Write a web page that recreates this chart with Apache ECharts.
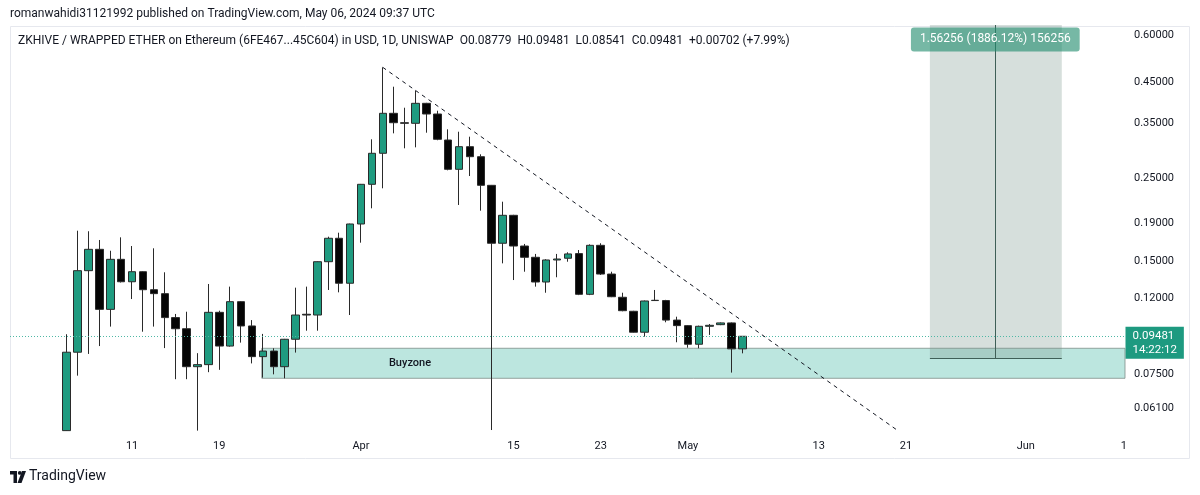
<!DOCTYPE html>
<html><head><meta charset="utf-8">
<script src="https://cdn.jsdelivr.net/npm/echarts@6/dist/echarts.min.js"></script>
<style>html,body{margin:0;padding:0;background:#fff}#c{width:1200px;height:495px}</style>
</head><body><div id="c"></div>
<script>
// Daily candles, first candle = 2024-03-05 (index 0), last = 2024-05-06 (index 62)
const opens  = [0.0532,0.0860,0.1417,0.1615,0.1118,0.1519,0.1324,0.1408,0.1261,0.1231,
                0.1063,0.0993,0.0787,0.0797,0.1098,0.0893,0.1172,0.1010,0.0837,0.0866,
                0.0787,0.0931,0.1085,0.1080,0.1497,0.1728,0.1312,0.1886,0.2405,0.2908,
                0.3715,0.3507,0.3494,0.3949,0.3699,0.3154,0.2636,0.3028,0.2848,0.2390,
                0.1676,0.1989,0.1648,0.1538,0.1322,0.1513,0.1529,0.1573,0.1226,0.1655,
                0.1388,0.1204,0.1105,0.0972,0.1180,0.1180,0.1047,0.1012,0.0903,0.1008,
                0.1018,0.1029,0.08779];
const closes = [0.0860,0.1417,0.1615,0.1118,0.1519,0.1324,0.1408,0.1261,0.1231,0.1063,
                0.0993,0.0787,0.0797,0.1098,0.0893,0.1172,0.1010,0.0837,0.0866,0.0787,
                0.0931,0.1080,0.1080,0.1497,0.1728,0.1312,0.1886,0.2405,0.2908,0.3715,
                0.3507,0.3494,0.3949,0.3699,0.3168,0.2636,0.3028,0.2848,0.2390,0.1676,
                0.1989,0.1648,0.1538,0.1322,0.1513,0.1522,0.1570,0.1226,0.1655,0.1388,
                0.1208,0.1109,0.0972,0.1177,0.1182,0.1047,0.1012,0.0903,0.1008,0.1014,
                0.1029,0.08779,0.09481];
const lows   = [0.0531,0.0745,0.0851,0.0893,0.1006,0.1318,0.1191,0.0975,0.1006,0.0882,
                0.0729,0.0729,0.0532,0.0761,0.0772,0.0890,0.0912,0.0803,0.0736,0.0751,
                0.0733,0.0858,0.0981,0.0981,0.1259,0.1241,0.1080,0.1682,0.2076,0.2347,
                0.3286,0.2998,0.3016,0.3299,0.3150,0.2620,0.2119,0.2530,0.2046,0.0534,
                0.1482,0.1338,0.1408,0.1285,0.1238,0.1361,0.1497,0.1220,0.1220,0.1380,
                0.1205,0.1105,0.0970,0.0946,0.1178,0.1033,0.0914,0.0884,0.0881,0.0956,
                0.1015,0.0759,0.08541];
const highs  = [0.0960,0.1810,0.1804,0.1710,0.1601,0.1738,0.1648,0.1412,0.1625,0.1403,
                0.1087,0.1102,0.0855,0.1306,0.1109,0.1285,0.1176,0.1047,0.0962,0.0881,
                0.0933,0.1277,0.1285,0.1500,0.1745,0.1788,0.1890,0.2410,0.3168,0.4923,
                0.4372,0.3844,0.4266,0.3960,0.3774,0.3368,0.3319,0.3219,0.2890,0.2395,
                0.2162,0.1995,0.1669,0.1570,0.1520,0.1570,0.1586,0.1608,0.1665,0.1676,
                0.1408,0.1238,0.1108,0.1180,0.1259,0.1185,0.1069,0.1015,0.1012,0.1022,
                0.1032,0.1032,0.09481];

// Time axis labels (day index from 2024-03-05)
const xTickIdx    = [6, 14, 27, 41, 49, 57, 69, 77, 88, 97];
const xTickLabels = ['11','19','Apr','15','23','May','13','21','Jun','1'];
// Price axis labels
const yTicks = [0.6, 0.45, 0.35, 0.25, 0.19, 0.15, 0.12, 0.075, 0.061];

// Annotations (data space)
const lastPrice = 0.09481;
const lastTime = '14:22:12';
const lastLabelPrice = 0.0911;
const buyzoneLow = 0.0733, buyzoneHigh = 0.0881, buyzoneStart = 17.9, buyzoneLabelAt = [31.5, 0.0804];
const trendFrom = [29, 0.4923], trendTo = [76.3, 0.0531];
const measureFrom = 79.2, measureTo = 91.3, measureMid = 85.2, measureBase = 0.0828, measureLabelPrice = 0.584;
const measureText = '1.56256 (1886.12%) 156256';

const X_MIN = -5.2, X_MAX = 97.1, Y_MIN = 0.05308, Y_MAX = 0.638;

const candles = opens.map((o, i) => [i, o, closes[i], lows[i], highs[i]]);

const chart = echarts.init(document.getElementById('c'), null, {renderer: 'canvas'});
const FONT = 'Roboto';
chart.setOption({
  animation: false,
  backgroundColor: '#ffffff',
  textStyle: {fontFamily: FONT},
  grid: {left: 10, right: 75, top: 25, bottom: 64, containLabel: false},
  xAxis: {
    type: 'value', min: X_MIN, max: X_MAX,
    axisLine: {show: false}, axisTick: {show: false}, splitLine: {show: false},
    axisLabel: {
      customValues: xTickIdx,
      formatter: v => { const k = xTickIdx.indexOf(Math.round(v)); return k >= 0 ? xTickLabels[k] : ''; },
      color: '#131722', fontSize: 11, fontFamily: FONT, margin: 10
    }
  },
  yAxis: {
    type: 'log', position: 'right', min: Y_MIN, max: Y_MAX,
    axisLine: {show: false}, axisTick: {show: false}, splitLine: {show: false},
    axisLabel: {
      customValues: yTicks,
      formatter: v => Number(v).toFixed(5),
      color: '#131722', fontSize: 11, fontFamily: FONT, margin: 9
    }
  },
  series: [
    {
      type: 'line', data: [], z: 1, silent: true,
      markArea: {
        silent: true,
        data: [
          [{xAxis: buyzoneStart, yAxis: buyzoneHigh,
            itemStyle: {color: 'rgba(34,171,148,0.30)', borderColor: 'rgba(120,135,130,0.75)', borderWidth: 1}},
           {xAxis: X_MAX, yAxis: buyzoneLow}],
          [{xAxis: measureFrom, yAxis: Y_MAX,
            itemStyle: {color: 'rgba(120,150,140,0.30)', borderWidth: 0}},
           {xAxis: measureTo, yAxis: measureBase}]
        ]
      },
      markLine: {
        silent: true, symbol: ['none', 'none'],
        data: [
          [{coord: [X_MIN, lastPrice],
            lineStyle: {color: '#4fb8a5', type: [1, 2], width: 1},
            label: {show: false}},
           {coord: [X_MAX, lastPrice]}],
          [{coord: trendFrom, lineStyle: {color: '#131722', type: [4, 4], width: 1}, label: {show: false}},
           {coord: trendTo}],
          [{coord: [measureMid, measureBase], lineStyle: {color: '#3f5f57', type: 'solid', width: 1}, label: {show: false}},
           {coord: [measureMid, Y_MAX]}],
          [{coord: [measureFrom, measureBase], lineStyle: {color: '#3f5f57', type: 'solid', width: 1}, label: {show: false}},
           {coord: [measureTo, measureBase]}]
        ]
      },
      markPoint: {
        silent: true,
        data: [
          {coord: buyzoneLabelAt, symbol: 'rect', symbolSize: 1, itemStyle: {color: 'rgba(0,0,0,0)'},
           label: {show: true, position: 'inside', formatter: 'Buyzone', color: '#131722', fontSize: 11, fontWeight: 500, fontFamily: FONT}},
          {coord: [measureMid, measureLabelPrice], symbol: 'rect', symbolSize: 1,
           itemStyle: {color: 'rgba(0,0,0,0)'},
           label: {show: true, position: 'inside', formatter: measureText, color: '#ffffff', fontSize: 12, fontFamily: FONT,
                   backgroundColor: 'rgba(34,140,110,0.62)', borderRadius: 3, padding: [6, 9, 6, 9]}},
          {coord: [X_MAX, lastLabelPrice], symbol: 'rect', symbolSize: 1,
           itemStyle: {color: 'rgba(0,0,0,0)'},
           label: {show: true, position: 'right', distance: 0, formatter: lastPrice.toFixed(5) + '\n' + lastTime,
                   backgroundColor: '#1d9a80', color: '#ffffff', fontSize: 11.5, lineHeight: 14,
                   padding: [2, 7, 2, 7], fontFamily: FONT, align: 'left'}}
        ]
      }
    },
    {
      type: 'candlestick', z: 3,
      data: candles,
      encode: {x: 0, y: [1, 2, 3, 4]},
      barWidth: 8,
      clip: true,
      itemStyle: {color: '#1f9b80', color0: '#050505', borderColor: '#2a2a2a', borderColor0: '#2a2a2a', borderWidth: 1}
    }
  ],
  graphic: [
    {type: 'rect', z: -1, silent: true, shape: {x: 10.5, y: 26.5, width: 1179, height: 432},
     style: {fill: 'none', stroke: '#e6e8ee', lineWidth: 1}},
    {type: 'text', left: 10, top: 8, silent: true,
     style: {text: 'romanwahidi31121992 published on TradingView.com, May 06, 2024 09:37 UTC', fill: '#131722', font: '12px ' + FONT}},
    {type: 'text', left: 18, top: 35, silent: true,
     style: {text: 'ZKHIVE / WRAPPED ETHER on Ethereum (6FE467...45C604) in USD, 1D, UNISWAP  O0.08779  H0.09481  L0.08541  C0.09481  +0.00702 (+7.99%)', fill: '#131722', font: '12px ' + FONT}},
    {type: 'group', left: 10, top: 471, silent: true, children: [
      {type: 'rect', shape: {x: 0, y: 0, width: 7, height: 3.5}, style: {fill: '#131722'}},
      {type: 'rect', shape: {x: 3.5, y: 0, width: 3.5, height: 12}, style: {fill: '#131722'}},
      {type: 'circle', shape: {cx: 9.8, cy: 1.9, r: 1.9}, style: {fill: '#131722'}},
      {type: 'polygon', shape: {points: [[12, 0], [16, 0], [11.5, 12], [7.5, 12]]}, style: {fill: '#131722'}}
    ]},
    {type: 'text', left: 29, top: 469, silent: true,
     style: {text: 'TradingView', fill: '#131722', font: '14px ' + FONT}}
  ]
});
</script></body></html>
